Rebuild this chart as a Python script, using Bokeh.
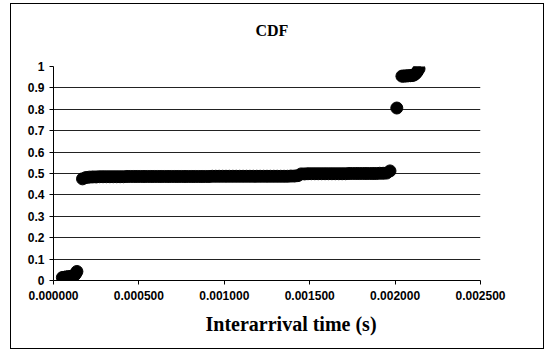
from bokeh.plotting import figure
from bokeh.models import FixedTicker, PrintfTickFormatter, Range1d, Title
from bokeh.embed import file_html
from bokeh.resources import INLINE

# Data (interarrival time in seconds, CDF value)
low_x = [0.000052, 0.000064, 0.000076, 0.000088, 0.000100, 0.000112, 0.000122, 0.000130, 0.000137]
low_y = [0.014, 0.015, 0.017, 0.018, 0.019, 0.021, 0.024, 0.032, 0.042]

mid_x = [0.000170, 0.000190, 0.000210, 0.000230, 0.000250, 0.000270, 0.000290, 0.000310, 0.000330, 0.000350,
         0.000370, 0.000390, 0.000410, 0.000430, 0.000450, 0.000470, 0.000490, 0.000510, 0.000530, 0.000550,
         0.000570, 0.000590, 0.000610, 0.000630, 0.000650, 0.000670, 0.000690, 0.000710, 0.000730, 0.000750,
         0.000770, 0.000790, 0.000810, 0.000830, 0.000850, 0.000870, 0.000890, 0.000910, 0.000930, 0.000950,
         0.000970, 0.000990, 0.001010, 0.001030, 0.001050, 0.001070, 0.001090, 0.001110, 0.001130, 0.001150,
         0.001170, 0.001190, 0.001210, 0.001230, 0.001250, 0.001270, 0.001290, 0.001310, 0.001330, 0.001350,
         0.001370, 0.001390, 0.001410, 0.001430, 0.001450, 0.001470, 0.001490, 0.001510, 0.001530, 0.001550,
         0.001570, 0.001590, 0.001610, 0.001630, 0.001650, 0.001670, 0.001690, 0.001710, 0.001730, 0.001750,
         0.001770, 0.001790, 0.001810, 0.001830, 0.001850, 0.001870, 0.001890, 0.001910, 0.001930, 0.001950,
         0.001970]
mid_y = [0.475, 0.481, 0.483, 0.484, 0.484, 0.485, 0.485, 0.485, 0.485, 0.485,
         0.485, 0.485, 0.485, 0.486, 0.486, 0.486, 0.486, 0.486, 0.486, 0.486,
         0.486, 0.486, 0.486, 0.486, 0.486, 0.486, 0.486, 0.486, 0.486, 0.486,
         0.486, 0.486, 0.486, 0.486, 0.486, 0.486, 0.486, 0.486, 0.487, 0.487,
         0.487, 0.487, 0.487, 0.487, 0.487, 0.487, 0.487, 0.487, 0.487, 0.487,
         0.487, 0.487, 0.487, 0.487, 0.487, 0.487, 0.487, 0.487, 0.487, 0.487,
         0.487, 0.488, 0.488, 0.490, 0.498, 0.498, 0.499, 0.499, 0.499, 0.499,
         0.499, 0.499, 0.499, 0.499, 0.499, 0.499, 0.499, 0.499, 0.500, 0.500,
         0.500, 0.500, 0.500, 0.500, 0.500, 0.500, 0.500, 0.501, 0.501, 0.502,
         0.512]

top_x = [0.002010, 0.002040, 0.002050, 0.002060, 0.002070, 0.002080, 0.002090, 0.002100,
         0.002110, 0.002120, 0.002130, 0.002140]
top_y = [0.806, 0.955, 0.955, 0.956, 0.956, 0.957, 0.957, 0.958, 0.960, 0.966, 0.976, 0.989]

x_ticks = [0.0, 0.0005, 0.001, 0.0015, 0.002, 0.0025]
y_ticks = [0.0, 0.1, 0.2, 0.3, 0.4, 0.5, 0.6, 0.7, 0.8, 0.9, 1.0]
y_tick_labels = ["0", "0.1", "0.2", "0.3", "0.4", "0.5", "0.6", "0.7", "0.8", "0.9", "1"]

xs = low_x + mid_x + top_x
ys = low_y + mid_y + top_y

p = figure(width=534, height=346, output_backend="svg", toolbar_location=None,
           x_range=Range1d(0, 0.0025), y_range=Range1d(0, 1),
           min_border_left=42, min_border_right=65, min_border_top=62, min_border_bottom=70,
           styles={"border": "1px solid #000000", "margin-left": "10px", "margin-top": "3px"})

p.title = Title(text="CDF\n ", align="left", offset=202, standoff=10,
                text_font="Liberation Serif", text_font_style="bold",
                text_font_size="16px", text_line_height=1.3, text_color="#000000")

p.outline_line_color = None
p.background_fill_color = "#ffffff"
p.border_fill_color = "#ffffff"

p.xgrid.grid_line_color = None
p.ygrid.grid_line_color = "#222222"
p.ygrid.grid_line_width = 1

p.xaxis.ticker = FixedTicker(ticks=x_ticks)
p.xaxis.formatter = PrintfTickFormatter(format="%.6f")
p.yaxis.ticker = FixedTicker(ticks=y_ticks)
p.yaxis.major_label_overrides = {t: l for t, l in zip(y_ticks, y_tick_labels)}

for ax in (p.xaxis, p.yaxis):
    ax.axis_line_color = "#000000"
    ax.major_tick_line_color = "#000000"
    ax.minor_tick_line_color = None
    ax.major_tick_in = 0
    ax.major_tick_out = 4
    ax.major_label_text_font = "Liberation Sans"
    ax.major_label_text_font_style = "bold"
    ax.major_label_text_font_size = "12px"
    ax.major_label_text_color = "#000000"

p.xaxis.major_label_standoff = 6

p.add_layout(Title(text="Interarrival time (s)", align="left", offset=152, standoff=16,
                   text_font="Liberation Serif", text_font_style="bold",
                   text_font_size="20px", text_color="#000000"), "below")

p.scatter(xs, ys, size=12, marker="circle", fill_color="#000000", line_color="#000000")

open("out.html", "w").write(file_html(p, INLINE))
